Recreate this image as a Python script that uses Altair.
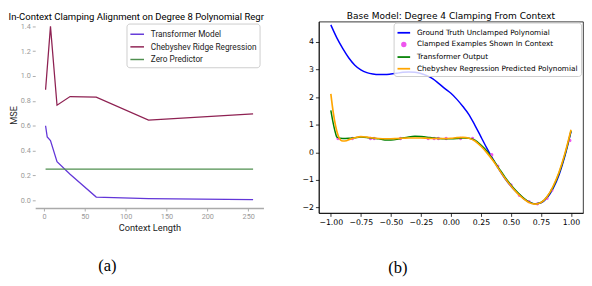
import altair as alt
import pandas as pd

# ---------------- Panel (a): MSE vs context length ----------------
ctx_transformer = [2, 4, 8, 16, 32, 64, 128, 256]
mse_transformer = [0.60, 0.51, 0.48, 0.31, 0.21, 0.026, 0.014, 0.006]
ctx_chebyshev = [2, 8, 16, 32, 64, 128, 256]
mse_chebyshev = [0.89, 1.40, 0.765, 0.835, 0.83, 0.645, 0.695]
ctx_zero = [2, 256]
mse_zero = [0.25, 0.25]
series_a = ["Transformer Model", "Chebyshev Ridge Regression", "Zero Predictor"]
colors_a = ["#6236d8", "#8e2152", "#4f8f4f"]
xticks_a = [0, 50, 100, 150, 200, 250]
yticks_a = [0.0, 0.2, 0.4, 0.6, 0.8, 1.0, 1.2, 1.4]
title_a = "In-Context Clamping Alignment on Degree 8 Polynomial Regr"

# ---------------- Panel (b): clamping from context ----------------
x_truth = [-1.00, -0.95, -0.90, -0.85, -0.80, -0.75, -0.70, -0.65, -0.60, -0.55,
           -0.50, -0.45, -0.40, -0.35, -0.30, -0.25, -0.20, -0.15, -0.10, -0.05,
           0.00, 0.05, 0.10, 0.15, 0.20, 0.25, 0.30, 0.35, 0.40, 0.45,
           0.50, 0.55, 0.60, 0.65, 0.70, 0.75, 0.80, 0.85, 0.90, 0.95, 1.00]
y_truth = [4.62, 4.15, 3.76, 3.42, 3.16, 2.99, 2.89, 2.84, 2.82, 2.82,
           2.84, 2.87, 2.90, 2.91, 2.90, 2.86, 2.78, 2.66, 2.49, 2.31,
           2.14, 1.92, 1.66, 1.37, 0.98, 0.56, 0.14, -0.25, -0.62, -0.95,
           -1.23, -1.46, -1.66, -1.80, -1.87, -1.83, -1.66, -1.32, -0.82, -0.12, 0.75]

x_tf = [-1.00, -0.98, -0.96, -0.95, -0.90, -0.85, -0.80, -0.75, -0.70, -0.65,
        -0.60, -0.55, -0.50, -0.45, -0.40, -0.35, -0.30, -0.25, -0.20, -0.15,
        -0.10, -0.05, 0.00, 0.05, 0.10, 0.15, 0.20, 0.25, 0.30, 0.35,
        0.40, 0.45, 0.50, 0.55, 0.60, 0.65, 0.70, 0.75, 0.80, 0.85, 0.90, 0.95, 1.00]
y_tf = [1.52, 1.05, 0.68, 0.55, 0.50, 0.51, 0.53, 0.55, 0.54, 0.51,
        0.49, 0.45, 0.45, 0.47, 0.52, 0.56, 0.58, 0.57, 0.55, 0.52,
        0.50, 0.49, 0.49, 0.50, 0.52, 0.51, 0.44, 0.26, 0.04, -0.26,
        -0.58, -0.90, -1.18, -1.43, -1.64, -1.80, -1.87, -1.82, -1.62, -1.27, -0.76, -0.07, 0.78]

x_cheb = [-1.00, -0.98, -0.96, -0.94, -0.92, -0.90, -0.87, -0.85, -0.80, -0.75,
          -0.70, -0.65, -0.60, -0.55, -0.50, -0.45, -0.40, -0.35, -0.30, -0.25,
          -0.20, -0.15, -0.10, -0.05, 0.00, 0.05, 0.10, 0.15, 0.20, 0.25,
          0.30, 0.35, 0.40, 0.45, 0.50, 0.55, 0.60, 0.65, 0.70, 0.75,
          0.80, 0.85, 0.90, 0.95, 1.00]
y_cheb = [2.12, 1.45, 0.95, 0.62, 0.45, 0.41, 0.42, 0.46, 0.53, 0.57,
          0.55, 0.52, 0.50, 0.49, 0.49, 0.50, 0.51, 0.52, 0.52, 0.52,
          0.51, 0.50, 0.50, 0.50, 0.51, 0.53, 0.54, 0.51, 0.41, 0.22,
          -0.02, -0.30, -0.62, -0.94, -1.22, -1.47, -1.67, -1.82, -1.88, -1.82,
          -1.61, -1.24, -0.72, -0.03, 0.82]

x_clamped = [-0.94, -0.82, -0.67, -0.64, -0.42, -0.19, -0.14, -0.105, -0.04, 0.08,
             0.18, 0.34, 0.39, 0.50, 0.57, 0.65, 0.72, 0.80, 0.84, 0.99]
y_clamped = [0.5, 0.5, 0.5, 0.5, 0.5, 0.5, 0.5, 0.5, 0.5, 0.5,
             0.5, -0.09, -0.5, -1.18, -1.56, -1.79, -1.87, -1.67, -1.38, 0.43]

series_b = ["Ground Truth Unclamped Polynomial", "Clamped Examples Shown In Context",
            "Transformer Output", "Chebyshev Regression Predicted Polynomial"]
colors_b = ["#0000ff", "#ee55ee", "#008000", "#ffa500"]
xticks_b = [-1.0, -0.75, -0.5, -0.25, 0.0, 0.25, 0.5, 0.75, 1.0]
yticks_b = [-2, -1, 0, 1, 2, 3, 4]
title_b = "Base Model: Degree 4 Clamping From Context"

# ---------------- build panel (a) ----------------
def frame(xs, ys, name, xn="x", yn="y"):
    return pd.DataFrame({xn: xs, yn: ys, "series": [name] * len(xs)})

df_a = [
    frame(ctx_transformer, mse_transformer, series_a[0]),
    frame(ctx_chebyshev, mse_chebyshev, series_a[1]),
    frame(ctx_zero, mse_zero, series_a[2]),
]

FA = "Roboto"
xa = alt.X("x:Q", scale=alt.Scale(domain=[-10.7, 268.7], nice=False, zero=False),
           axis=alt.Axis(values=xticks_a, title="Context Length", grid=False,
                         domain=True, domainColor="#aaaaaa", domainWidth=1.5,
                         tickColor="#aaaaaa", tickSize=3, labelColor="#999999",
                         labelFont=FA, labelFontSize=7.5, labelPadding=2,
                         titleFont=FA, titleFontSize=9.5, titleFontWeight="normal",
                         titleColor="#222222", titlePadding=3))
ya = alt.Y("y:Q", scale=alt.Scale(domain=[-0.063, 1.438], nice=False, zero=False),
           axis=alt.Axis(values=yticks_a, format=".1f", title="MSE", grid=False,
                         domain=False, tickColor="#aaaaaa", tickSize=3,
                         labelColor="#999999", labelFont=FA, labelFontSize=7.5,
                         labelPadding=2, titleFont=FA, titleFontSize=9.5,
                         titleFontWeight="normal", titleColor="#222222", titlePadding=2))
ca = alt.Color("series:N", scale=alt.Scale(domain=series_a, range=colors_a),
               legend=alt.Legend(orient="none", legendX=94, legendY=2, title=None,
                                 symbolType="stroke", symbolSize=196, symbolStrokeWidth=1.5,
                                 labelFont=FA, labelFontSize=8.5, labelColor="#222222",
                                 padding=3, rowPadding=0, labelOffset=6, labelLimit=300,
                                 fillColor="white", strokeColor="#cccccc", cornerRadius=3))

layers_a = [alt.Chart(d).mark_line(strokeWidth=1.3).encode(x=xa, y=ya, color=ca) for d in df_a]
left = alt.layer(*layers_a).properties(
    width=235, height=192,
    title=alt.TitleParams(title_a, anchor="start", frame="bounds", font=FA, fontSize=9.8,
                          fontWeight="normal", color="black", offset=0),
)

# ---------------- build panel (b) ----------------
FB = "DejaVu Sans"
xb = alt.X("x:Q", scale=alt.Scale(domain=[-1.1, 1.1], nice=False, zero=False),
           axis=alt.Axis(values=xticks_b, format=".2f", title=None, grid=False,
                         domainColor="black", domainWidth=0.8, tickColor="black",
                         tickSize=3.5, tickWidth=0.8, labelColor="black", labelFont=FB,
                         labelFontSize=8, labelPadding=2))
yb = alt.Y("y:Q", scale=alt.Scale(domain=[-2.2, 4.74], nice=False, zero=False),
           axis=alt.Axis(values=yticks_b, format="d", title=None, grid=False,
                         domainColor="black", domainWidth=0.8, tickColor="black",
                         tickSize=3.5, tickWidth=0.8, labelColor="black", labelFont=FB,
                         labelFontSize=8, labelPadding=2))
CL = series_b[1]
cond = "datum.value === '" + CL + "'"
stroke_expr = (cond + " ? 'transparent' : (datum.value === '" + series_b[0] + "' ? '"
               + colors_b[0] + "' : (datum.value === '" + series_b[2] + "' ? '"
               + colors_b[2] + "' : '" + colors_b[3] + "'))")
cb = alt.Color("series:N", scale=alt.Scale(domain=series_b, range=colors_b),
               legend=alt.Legend(
                   orient="none", legendX=77, legendY=1, title=None,
                   symbolType={"expr": cond + " ? 'circle' : 'stroke'"},
                   symbolSize={"expr": cond + " ? 14 : 169"},
                   symbolFillColor={"expr": cond + " ? '" + colors_b[1] + "' : 'transparent'"},
                   symbolStrokeColor={"expr": stroke_expr},
                   symbolStrokeWidth=1.8,
                   labelFont=FB, labelFontSize=7.5, labelColor="black", labelLimit=400,
                   padding=3, rowPadding=0, labelOffset=6,
                   fillColor="rgba(255,255,255,0.8)", strokeColor="#cccccc", cornerRadius=3))

truth_l = alt.Chart(frame(x_truth, y_truth, series_b[0])).mark_line(
    strokeWidth=1.5, interpolate="monotone").encode(x=xb, y=yb, color=cb)
pts_l = alt.Chart(frame(x_clamped, y_clamped, series_b[1])).mark_circle(
    size=12, opacity=1).encode(x=xb, y=yb, color=cb)
tf_l = alt.Chart(frame(x_tf, y_tf, series_b[2])).mark_line(
    strokeWidth=1.5, interpolate="monotone").encode(x=xb, y=yb, color=cb)
ch_l = alt.Chart(frame(x_cheb, y_cheb, series_b[3])).mark_line(
    strokeWidth=1.7, interpolate="monotone").encode(x=xb, y=yb, color=cb)

right = alt.layer(truth_l, pts_l, tf_l, ch_l).properties(
    width=272, height=197,
    view=alt.ViewBackground(stroke="black", strokeWidth=0.8),
    title=alt.TitleParams(title_b, anchor="middle", frame="group", font=FB, fontSize=9.3,
                          fontWeight="normal", color="black", offset=0),
)

cap = dict(orient="bottom", font="Liberation Serif", fontSize=17, fontWeight="normal",
           color="black", anchor="middle")
left_w = alt.vconcat(left, title=alt.TitleParams("(a)", offset=27, dx=-30, **cap))
right_w = alt.vconcat(right, title=alt.TitleParams("(b)", offset=35, dx=-46, **cap))

chart = alt.hconcat(left_w, right_w, spacing=38).resolve_scale(
    color="independent").resolve_legend(color="independent").properties(
    padding=0).configure_view(stroke=None)

chart.save("out.html", embed_options={"renderer": "svg", "actions": False})
